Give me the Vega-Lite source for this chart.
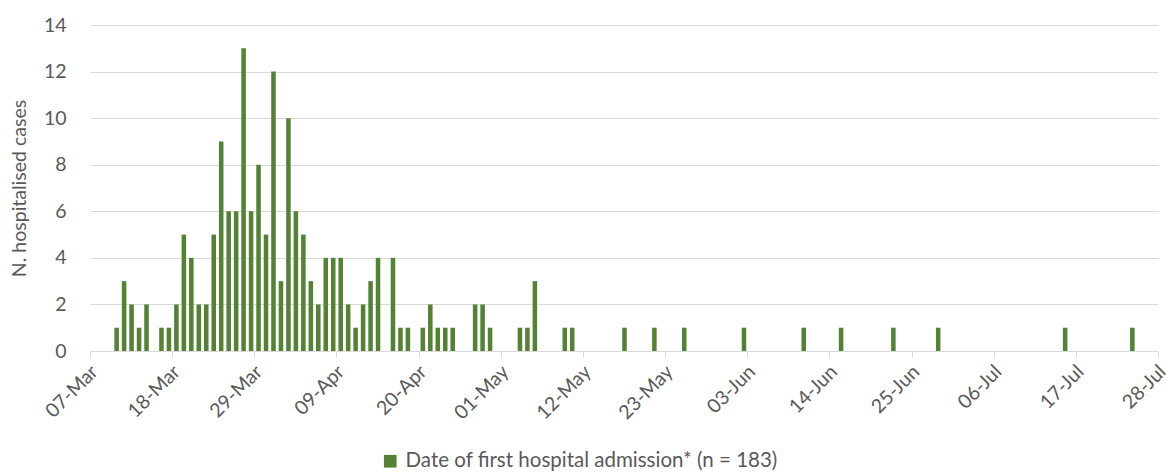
{
  "$schema": "https://vega.github.io/schema/vega-lite/v6.json",
  "width": 1068,
  "height": 326,
  "autosize": {"type": "none"},
  "padding": {"left": 90, "top": 25, "right": 8, "bottom": 121},
  "background": "white",
  "config": {
    "view": {"stroke": null},
    "font": "Lato",
    "axis": {"labelFont": "Lato", "titleFont": "Lato", "labelColor": "#595959", "titleColor": "#595959"}
  },
  "data": {
    "values": [
      {"date": "2020-03-10", "n": 1}, {"date": "2020-03-11", "n": 3}, {"date": "2020-03-12", "n": 2},
      {"date": "2020-03-13", "n": 1}, {"date": "2020-03-14", "n": 2}, {"date": "2020-03-16", "n": 1},
      {"date": "2020-03-17", "n": 1}, {"date": "2020-03-18", "n": 2}, {"date": "2020-03-19", "n": 5},
      {"date": "2020-03-20", "n": 4}, {"date": "2020-03-21", "n": 2}, {"date": "2020-03-22", "n": 2},
      {"date": "2020-03-23", "n": 5}, {"date": "2020-03-24", "n": 9}, {"date": "2020-03-25", "n": 6},
      {"date": "2020-03-26", "n": 6}, {"date": "2020-03-27", "n": 13}, {"date": "2020-03-28", "n": 6},
      {"date": "2020-03-29", "n": 8}, {"date": "2020-03-30", "n": 5}, {"date": "2020-03-31", "n": 12},
      {"date": "2020-04-01", "n": 3}, {"date": "2020-04-02", "n": 10}, {"date": "2020-04-03", "n": 6},
      {"date": "2020-04-04", "n": 5}, {"date": "2020-04-05", "n": 3}, {"date": "2020-04-06", "n": 2},
      {"date": "2020-04-07", "n": 4}, {"date": "2020-04-08", "n": 4}, {"date": "2020-04-09", "n": 4},
      {"date": "2020-04-10", "n": 2}, {"date": "2020-04-11", "n": 1}, {"date": "2020-04-12", "n": 2},
      {"date": "2020-04-13", "n": 3}, {"date": "2020-04-14", "n": 4}, {"date": "2020-04-16", "n": 4},
      {"date": "2020-04-17", "n": 1}, {"date": "2020-04-18", "n": 1}, {"date": "2020-04-20", "n": 1},
      {"date": "2020-04-21", "n": 2}, {"date": "2020-04-22", "n": 1}, {"date": "2020-04-23", "n": 1},
      {"date": "2020-04-24", "n": 1}, {"date": "2020-04-27", "n": 2}, {"date": "2020-04-28", "n": 2},
      {"date": "2020-04-29", "n": 1}, {"date": "2020-05-03", "n": 1}, {"date": "2020-05-04", "n": 1},
      {"date": "2020-05-05", "n": 3}, {"date": "2020-05-09", "n": 1}, {"date": "2020-05-10", "n": 1},
      {"date": "2020-05-17", "n": 1}, {"date": "2020-05-21", "n": 1}, {"date": "2020-05-25", "n": 1},
      {"date": "2020-06-02", "n": 1}, {"date": "2020-06-10", "n": 1}, {"date": "2020-06-15", "n": 1},
      {"date": "2020-06-22", "n": 1}, {"date": "2020-06-28", "n": 1}, {"date": "2020-07-15", "n": 1},
      {"date": "2020-07-24", "n": 1}
    ],
    "format": {"parse": {"date": "date:'%Y-%m-%d'"}}
  },
  "mark": {"type": "bar", "width": {"band": 0.74}, "color": "#548235"},
  "encoding": {
    "x": {
      "field": "date",
      "timeUnit": "yearmonthdate",
      "type": "temporal",
      "scale": {"domain": [{"year": 2020, "month": 3, "date": 7}, {"year": 2020, "month": 7, "date": 28}], "nice": false},
      "axis": {
        "title": null,
        "format": "%d-%b",
        "values": [
          {"year": 2020, "month": 3, "date": 7}, {"year": 2020, "month": 3, "date": 18}, {"year": 2020, "month": 3, "date": 29},
          {"year": 2020, "month": 4, "date": 9}, {"year": 2020, "month": 4, "date": 20}, {"year": 2020, "month": 5, "date": 1},
          {"year": 2020, "month": 5, "date": 12}, {"year": 2020, "month": 5, "date": 23}, {"year": 2020, "month": 6, "date": 3},
          {"year": 2020, "month": 6, "date": 14}, {"year": 2020, "month": 6, "date": 25}, {"year": 2020, "month": 7, "date": 6},
          {"year": 2020, "month": 7, "date": 17}, {"year": 2020, "month": 7, "date": 28}
        ],
        "labelAngle": -45,
        "labelFontSize": 19.5,
        "labelPadding": 5,
        "labelOffset": -2,
        "labelOverlap": false,
        "labelFlush": false,
        "domainColor": "#d9d9d9",
        "tickColor": "#d9d9d9",
        "tickSize": 6,
        "grid": false
      }
    },
    "y": {
      "field": "n",
      "type": "quantitative",
      "scale": {"domain": [0, 14], "nice": false},
      "axis": {
        "title": "N. hospitalised cases",
        "titleFontSize": 19.5,
        "titleFontWeight": "normal",
        "titlePadding": 14,
        "values": [0, 2, 4, 6, 8, 10, 12, 14],
        "labelFontSize": 19.5,
        "labelPadding": 24,
        "ticks": false,
        "domain": false,
        "grid": true,
        "gridColor": "#d9d9d9",
        "gridWidth": 1
      }
    },
    "color": {
      "datum": "Date of first hospital admission* (n = 183)",
      "type": "nominal",
      "scale": {"range": ["#548235"]},
      "legend": {
        "title": null,
        "orient": "none",
        "legendX": 290,
        "legendY": 426,
        "symbolType": "square",
        "symbolSize": 160,
        "symbolStrokeWidth": 0,
        "labelFontSize": 20.5,
        "labelColor": "#595959",
        "labelFont": "Lato",
        "labelLimit": 0,
        "labelOffset": 5
      }
    }
  }
}
